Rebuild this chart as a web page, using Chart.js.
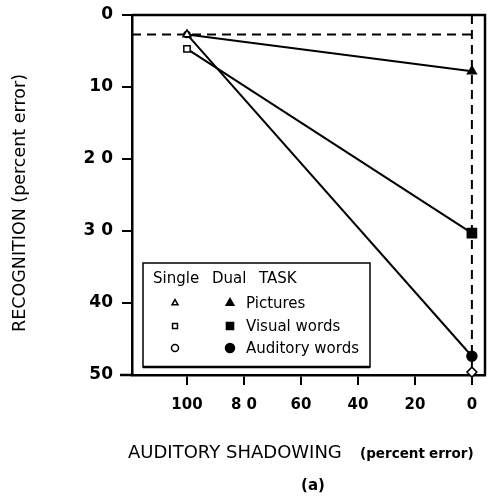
<!DOCTYPE html>
<html>
<head>
<meta charset="utf-8">
<script src="https://cdn.jsdelivr.net/npm/chart.js@4/dist/chart.umd.min.js"></script>
<style>
  html, body { margin: 0; padding: 0; background: #fff; }
  canvas { display: block; }
</style>
</head>
<body>
<canvas id="myChart" width="487" height="498"></canvas>
<script>
// recognition error vs auditory shadowing error, single and dual task
const taskLabels      = ['Pictures', 'Visual words', 'Auditory words'];
const taskStyles      = ['triangle', 'rect', 'circle'];
const shadowingSingle = 100;
const shadowingDual   = 0;
const recogSingle     = [2.7, 4.7, 2.7];
const recogDual       = [7.8, 30.3, 47.4];
const shadowingAlone  = 49.6;
const xTickValues     = [100, 80, 60, 40, 20, 0];
const xTickLabels     = ['100', '8 0', '60', '40', '20', '0'];
const yTickValues     = [0, 10, 20, 30, 40, 50];
const yTickLabels     = ['0', '10', '2 0', '3 0', '40', '50'];

const X_MIN = -4.6, X_MAX = 119.3;
const FONT  = '"DejaVu Sans", sans-serif';

const taskSets = taskLabels.map((label, i) => ({
    label           : label,
    data            : [{ x: shadowingSingle, y: recogSingle[i] }, { x: shadowingDual, y: recogDual[i] }],
    showLine        : true,
    borderColor     : '#000',
    borderWidth     : 2,
    pointStyle      : taskStyles[i],
    pointBackgroundColor: ['#fff', '#000'],
    pointBorderColor: '#000',
    pointBorderWidth: 1.5,
    pointRadius     : taskStyles[i] === 'rect' ? [4.5, 6.5] : (taskStyles[i] === 'circle' ? [3, 5] : [4.5, 5]),
    order           : 0
}));

const dashedSets = [
    { data: [{ x: X_MAX, y: recogSingle[0] }, { x: shadowingDual, y: recogSingle[0] }] },
    { data: [{ x: shadowingDual, y: 0 }, { x: shadowingDual, y: 50 }] }
].map(d => Object.assign(d, {
    showLine   : true,
    borderColor: '#000',
    borderWidth: 2,
    borderDash : [9, 6],
    pointRadius: 0,
    order      : 5
}));

const diamondSet = {
    data            : [{ x: shadowingDual, y: shadowingAlone }],
    pointStyle      : 'rectRot',
    pointRadius     : 5,
    pointBackgroundColor: '#fff',
    pointBorderColor: '#000',
    pointBorderWidth: 1.5,
    order           : 1
};

function marker(ctx, style, filled, x, y, r) {
    ctx.save();
    ctx.fillStyle   = filled ? '#000' : '#fff';
    ctx.strokeStyle = '#000';
    ctx.lineWidth   = 1.5;
    Chart.helpers.drawPoint(ctx, { pointStyle: style, radius: r, borderWidth: 1.5 }, x, y);
    ctx.restore();
}

const decorations = {
    id: 'decorations',
    beforeDatasetsDraw(chart) {
        const { ctx, chartArea: a } = chart;
        ctx.save();
        ctx.strokeStyle = '#000';
        ctx.lineWidth = 2.5;
        ctx.beginPath();
        ctx.moveTo(a.left, a.top);
        ctx.lineTo(a.right, a.top);
        ctx.lineTo(a.right, a.bottom);
        ctx.moveTo(a.left - 12, a.bottom);
        ctx.lineTo(a.left, a.bottom);
        ctx.stroke();
        ctx.restore();
    },
    afterDatasetsDraw(chart) {
        const { ctx } = chart;
        // legend box
        ctx.save();
        ctx.fillStyle = '#fff';
        ctx.fillRect(143, 263, 227, 104);
        ctx.strokeStyle = '#000';
        ctx.lineWidth = 1.5;
        ctx.strokeRect(143, 263, 227, 104);
        ctx.lineWidth = 2.5;
        ctx.beginPath();
        ctx.moveTo(143, 367);
        ctx.lineTo(370, 367);
        ctx.stroke();

        ctx.fillStyle = '#000';
        ctx.font = '15px ' + FONT;
        ctx.textBaseline = 'alphabetic';
        ctx.textAlign = 'left';
        ctx.fillText('Single', 153, 283);
        ctx.fillText('Dual', 212, 283);
        ctx.fillText('TASK', 259, 283);
        const rows = [303, 326, 348];
        taskLabels.forEach((label, i) => {
            marker(ctx, taskStyles[i], false, 175, rows[i], 3.5);
            marker(ctx, taskStyles[i], true, 230, rows[i], taskStyles[i] === 'rect' ? 5 : 4.5);
            ctx.fillStyle = '#000';
            ctx.fillText(label, 246, rows[i] + 5);
        });
        ctx.restore();
    },
    afterDraw(chart) {
        const { ctx } = chart;
        ctx.save();
        ctx.fillStyle = '#000';
        // y title
        ctx.translate(20, 203);
        ctx.rotate(-Math.PI / 2);
        ctx.font = '17.5px ' + FONT;
        ctx.textAlign = 'center';
        ctx.textBaseline = 'middle';
        ctx.fillText('RECOGNITION (percent error)', 0, 0);
        ctx.restore();

        ctx.save();
        ctx.fillStyle = '#000';
        ctx.textBaseline = 'alphabetic';
        ctx.textAlign = 'left';
        ctx.font = '18px ' + FONT;
        ctx.fillText('AUDITORY', 128, 458);
        ctx.fillText('SHADOWING', 226, 458);
        ctx.font = 'bold 13.5px ' + FONT;
        ctx.fillText('(percent', 360, 458);
        ctx.fillText('error)', 429, 458);
        ctx.textAlign = 'center';
        ctx.font = 'bold 15px ' + FONT;
        ctx.fillText('(a)', 313, 490);
        ctx.restore();
    }
};

new Chart(document.getElementById('myChart'), {
    type: 'scatter',
    data: { datasets: [...taskSets, diamondSet, ...dashedSets] },
    options: {
        responsive: false,
        animation : false,
        clip      : false,
        layout    : { autoPadding: false, padding: { left: 0, right: 2, top: 15, bottom: 0 } },
        plugins   : { legend: { display: false }, tooltip: { enabled: false } },
        scales: {
            x: {
                type   : 'linear',
                reverse: true,
                min    : X_MIN,
                max    : X_MAX,
                afterBuildTicks: s => { s.ticks = xTickValues.map(v => ({ value: v })); },
                afterFit: s => { s.height = 498 - 375; s.paddingLeft = 0; s.paddingRight = 0; },
                ticks  : {
                    color   : '#000',
                    padding : 11,
                    maxRotation: 0,
                    font    : { family: FONT, weight: 'bold', size: 15 },
                    callback: v => xTickLabels[xTickValues.indexOf(v)]
                },
                grid   : { drawOnChartArea: false, drawTicks: true, tickLength: 10, color: '#000', lineWidth: 2 },
                border : { color: '#000', width: 2.5 }
            },
            y: {
                type   : 'linear',
                reverse: true,
                min    : 0,
                max    : 50,
                afterBuildTicks: s => { s.ticks = yTickValues.map(v => ({ value: v })); },
                afterFit: s => { s.width = 132; s.paddingTop = 0; s.paddingBottom = 0; },
                ticks  : {
                    color   : '#000',
                    padding : 9,
                    font    : { family: FONT, weight: 'bold', size: 17 },
                    callback: v => yTickLabels[yTickValues.indexOf(v)]
                },
                grid   : { drawOnChartArea: false, drawTicks: true, tickLength: 10, color: '#000', lineWidth: 2 },
                border : { color: '#000', width: 2.5 }
            }
        }
    },
    plugins: [decorations]
});
</script>
</body>
</html>
